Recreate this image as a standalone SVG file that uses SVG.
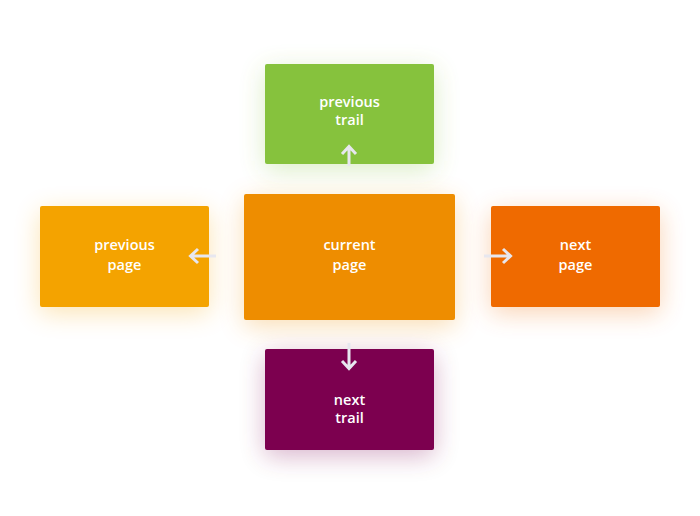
<svg xmlns="http://www.w3.org/2000/svg" width="700" height="516" viewBox="0 0 700 516">
<defs>
<filter id="glow" x="-40%" y="-50%" width="180%" height="200%">
<feGaussianBlur in="SourceGraphic" stdDeviation="13" result="b"/>
<feOffset in="b" dy="6" result="o"/>
<feComponentTransfer in="o" result="t"><feFuncA type="linear" slope="0.3"/></feComponentTransfer>
<feMerge><feMergeNode in="t"/><feMergeNode in="SourceGraphic"/></feMerge>
</filter>
</defs>
<style>
.box{filter:url(#glow)}
.lbl{font-family:"Open Sans","DejaVu Sans",sans-serif;font-size:14.5px;font-weight:600;fill:#ffffff;text-anchor:middle}
.arr{stroke:#e7e7ef;stroke-width:3;fill:none;stroke-linecap:butt;stroke-linejoin:miter}
</style>
<rect width="700" height="516" fill="#ffffff"/>
<g id="previous-trail">
<rect class="box" x="265" y="64" width="169" height="100" rx="2" fill="#86c23c"/>
<text class="lbl" x="349.5" y="107">previous</text>
<text class="lbl" x="349.5" y="125">trail</text>
</g>
<g id="previous-page">
<rect class="box" x="40" y="206" width="169" height="101" rx="2" fill="#f4a300"/>
<text class="lbl" x="124.5" y="250">previous</text>
<text class="lbl" x="124.5" y="270">page</text>
</g>
<g id="current-page">
<rect class="box" x="244" y="194" width="211" height="126" rx="2" fill="#ee8d00"/>
<text class="lbl" x="349.5" y="250">current</text>
<text class="lbl" x="349.5" y="270">page</text>
</g>
<g id="next-page">
<rect class="box" x="491" y="206" width="169" height="101" rx="2" fill="#ef6a03"/>
<text class="lbl" x="575.5" y="250">next</text>
<text class="lbl" x="575.5" y="270">page</text>
</g>
<g id="next-trail">
<rect class="box" x="265" y="349" width="169" height="101" rx="2" fill="#7b004f"/>
<text class="lbl" x="349.5" y="405">next</text>
<text class="lbl" x="349.5" y="423">trail</text>
</g>
<g id="connectors">
<path class="arr" d="M349 166 V147 M342 154 L349 146.5 L356 154"/>
<path class="arr" d="M216 256 H191 M198 249 L190.5 256 L198 263"/>
<path class="arr" d="M484 256 H510 M503 249 L510.5 256 L503 263"/>
<path class="arr" d="M349 343 V368 M342 361 L349 368.5 L356 361"/>
</g>
</svg>
